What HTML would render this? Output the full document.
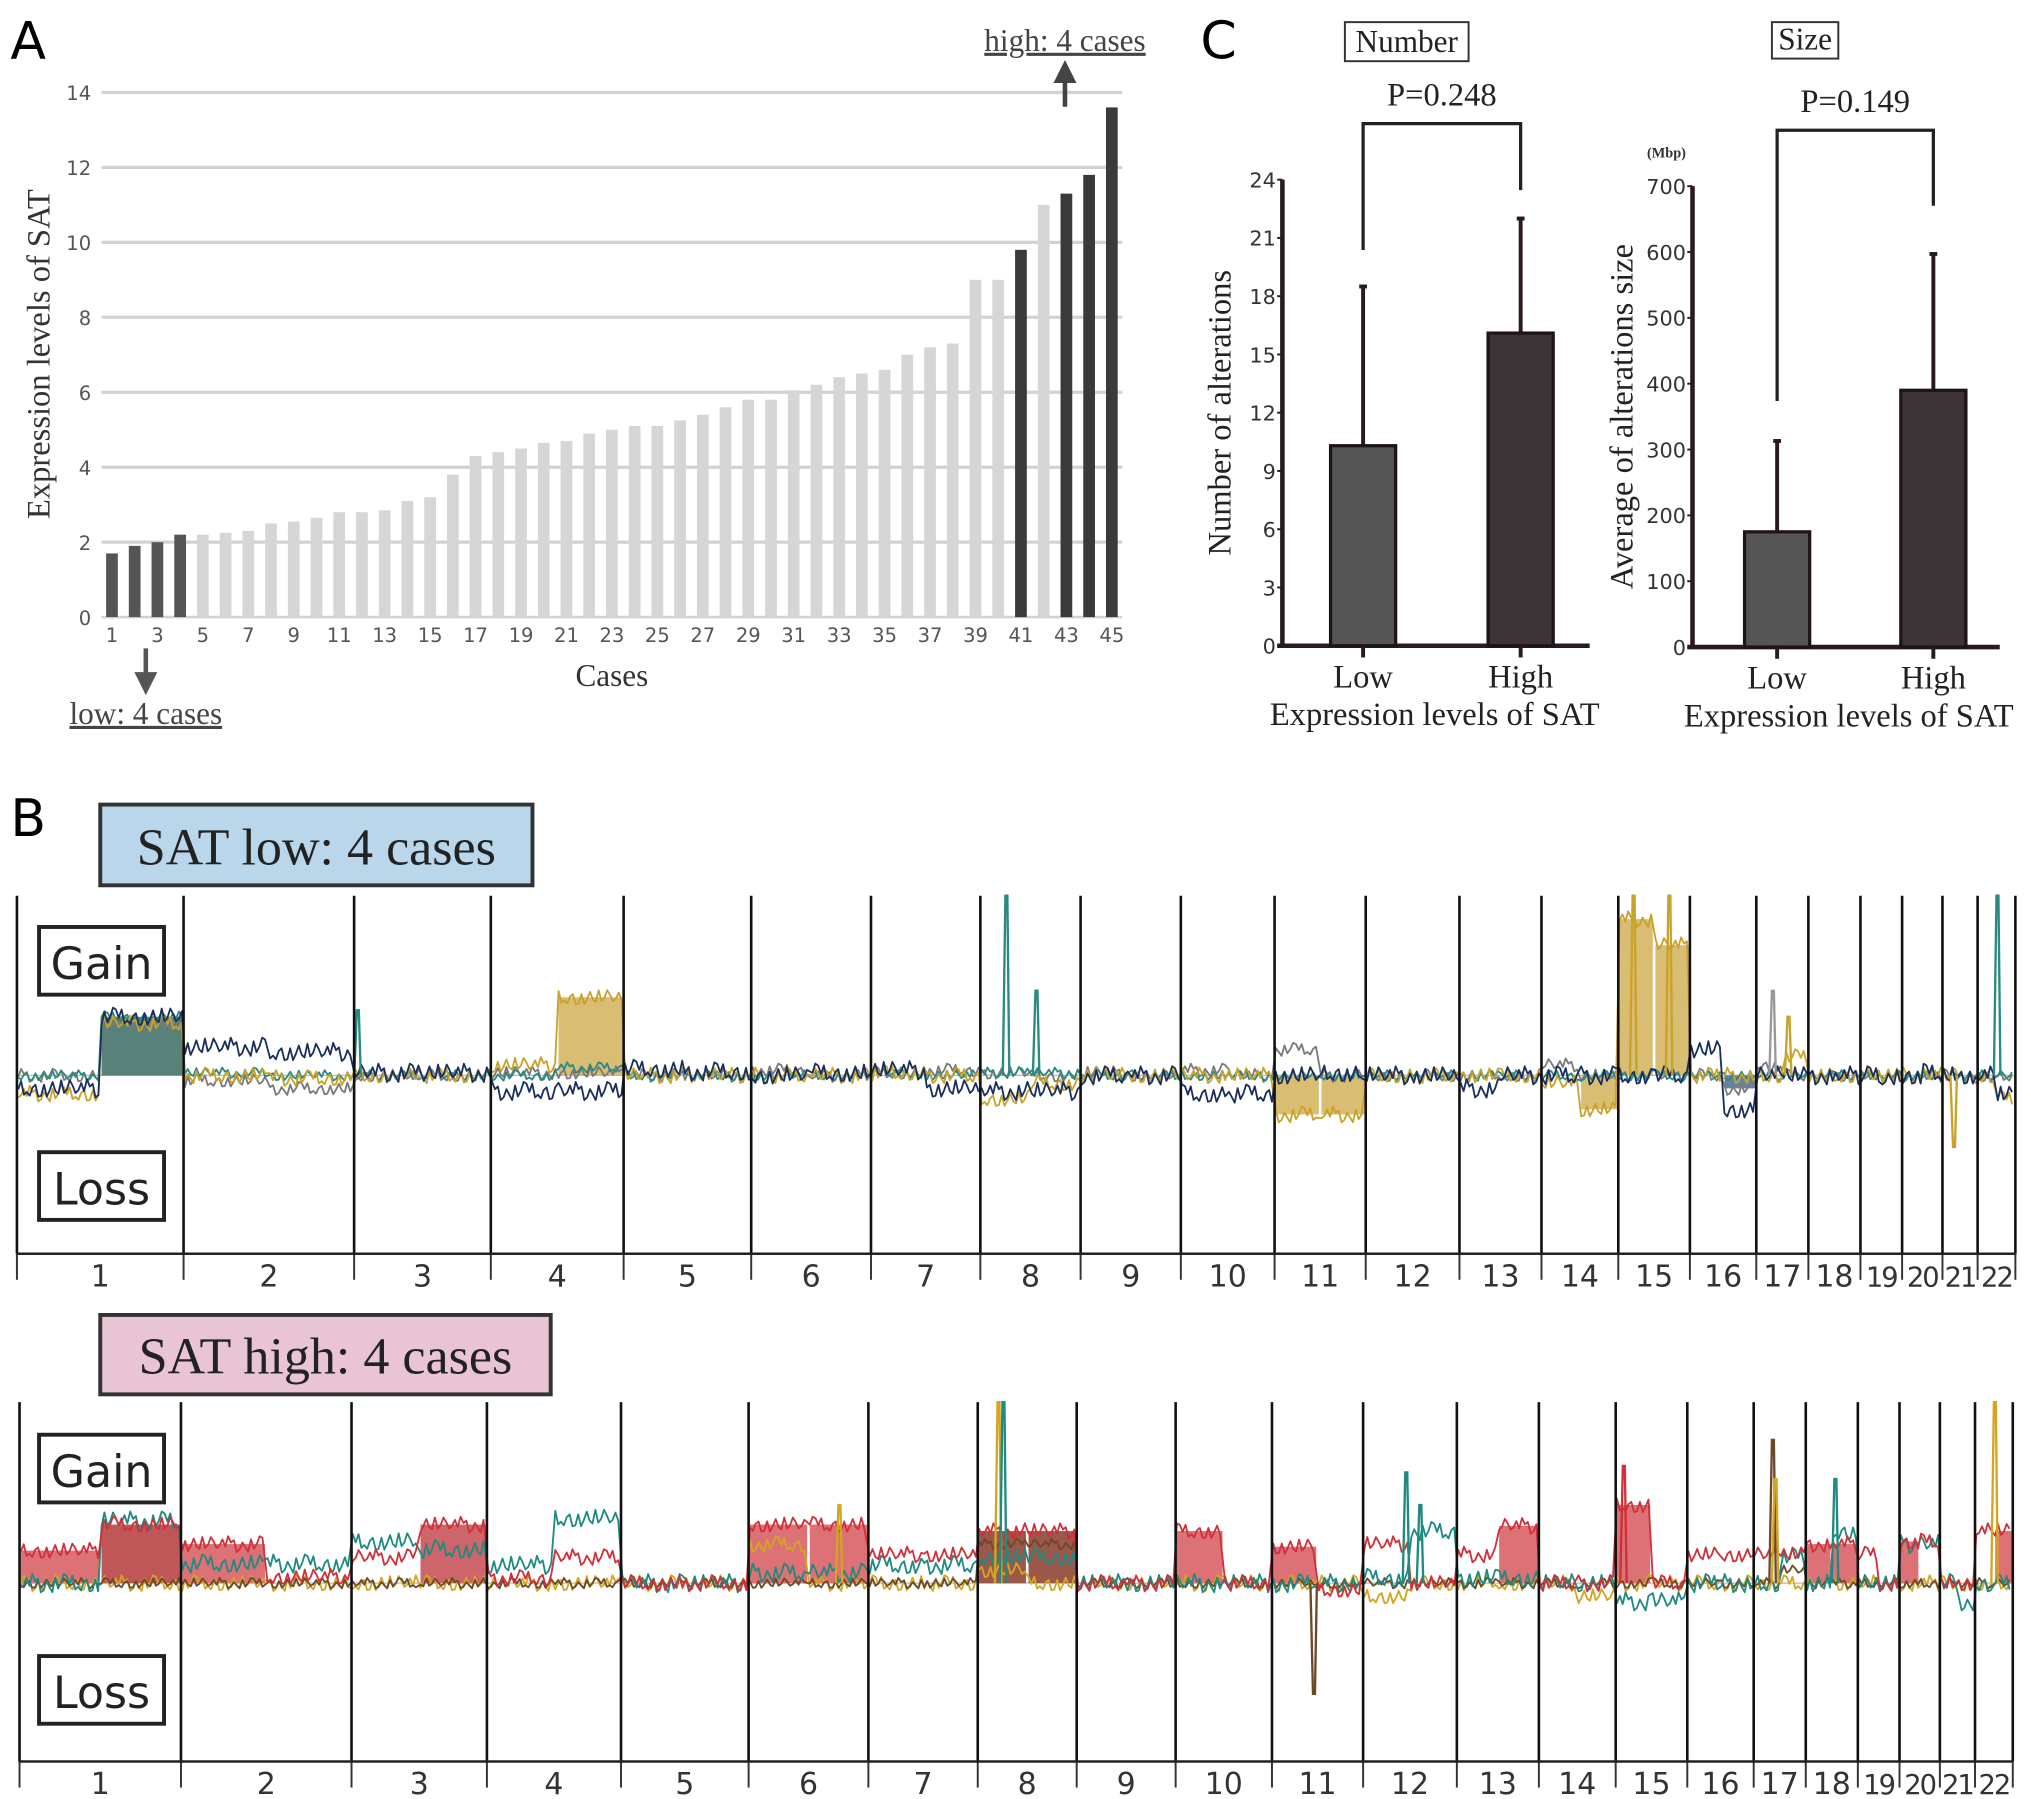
<!DOCTYPE html>
<html><head><meta charset="utf-8"><style>
html,body{margin:0;padding:0;background:#fff;}
svg{display:block;}
.serif{font-family:"Liberation Serif",serif;}
.sans{font-family:"DejaVu Sans","Liberation Sans",sans-serif;}
</style></head><body>
<svg id="fig" width="2031" height="1799" viewBox="0 0 1560 1381.8" xmlns="http://www.w3.org/2000/svg">
<g id="panelA"></g>
<g id="panelC"></g>
<g id="panelB"></g>
</svg>
<script>
// ---- Panel A data ----
const caseValues=[1.7,1.9,2.0,2.2,2.2,2.25,2.3,2.5,2.55,2.65,2.8,2.8,2.85,3.1,3.2,3.8,4.3,4.4,4.5,4.65,4.7,4.9,5.0,5.1,5.1,5.25,5.4,5.6,5.8,5.8,6.05,6.2,6.4,6.5,6.6,7.0,7.2,7.3,9.0,9.0,9.8,11.0,11.3,11.8,13.6];
const darkCases=[1,2,3,4,41,43,44,45];
const yTicksA=[0,2,4,6,8,10,12,14];
// ---- Panel C data ----
const groups=["Low","High"];
const numMeans=[10.3,16.1];
const numErr=[18.5,22.0];
const numTicks=[0,3,6,9,12,15,18,21,24];
const sizeMeans=[175,390];
const sizeErr=[313,597];
const sizeTicks=[0,100,200,300,400,500,600,700];
// ---- Panel B data: per sample, per chromosome [p-arm level, q-arm level] (+ = gain) ----
const chromLabels=["1","2","3","4","5","6","7","8","9","10","11","12","13","14","15","16","17","18","19","20","21","22"];
const lowNavy=[[-10,45],[22,18],[2,2],[-12,-12],[5,3],[0,2],[4,-10],[-12,-12],[0,0],[-14,-14],[0,2],[0,0],[-10,0],[0,0],[0,0],[20,-26],[0,0],[0,0],[0,0],[0,2],[0,0],[0,-15]];
const lowYellow=[[-14,40],[0,-2],[0,0],[8,60],[0,0],[0,0],[2,0],[-18,-6],[0,0],[0,0],[-30,-30],[0,0],[0,0],[-6,-26],[120,100],[0,0],[0,14],[0,0],[0,0],[0,0],[0,0],[0,-18]];
const lowGray=[[0,40],[-4,-10],[0,0],[2,2],[0,0],[4,0],[2,4],[2,0],[2,0],[4,0],[20,0],[0,0],[0,0],[8,0],[0,0],[0,-10],[8,0],[0,0],[0,0],[0,0],[0,0],[0,0]];
const lowTeal=[[0,45],[2,0],[0,0],[0,6],[0,0],[0,0],[2,0],[2,2],[0,0],[0,0],[0,0],[0,0],[0,0],[0,0],[0,0],[0,0],[0,0],[0,0],[0,0],[0,0],[0,0],[0,0]];
const highRed=[[25,45],[30,5],[20,45],[4,20],[0,0],[45,45],[22,22],[40,40],[0,0],[40,0],[28,-5],[30,0],[22,44],[0,0],[60,0],[22,22],[22,22],[30,30],[22,0],[32,32],[0,0],[40,40]];
const highTeal=[[0,48],[15,15],[32,26],[14,50],[0,0],[8,8],[14,14],[20,20],[0,0],[0,0],[0,0],[4,40],[4,4],[0,0],[-14,-14],[0,0],[0,20],[0,40],[0,0],[30,30],[0,-14],[0,0]];
const highYellow=[[0,0],[0,0],[0,0],[0,0],[0,0],[30,0],[0,0],[10,0],[0,0],[0,0],[0,0],[-10,0],[0,0],[0,-10],[0,0],[0,0],[0,0],[0,0],[0,0],[0,0],[0,0],[0,0]];
const highBrown=[[0,0],[0,0],[0,0],[0,0],[0,0],[0,0],[0,0],[30,30],[0,0],[0,0],[0,0],[0,0],[0,0],[0,0],[0,0],[0,0],[0,10],[0,0],[0,0],[0,0],[0,0],[0,0]];
// narrow spikes: [chromIndex, position fraction within chromosome, level]
const lowSpikes=[[7,0.25,138,'#2a8a80'],[7,0.55,65,'#2a8a80'],[16,0.3,65,'#999'],[16,0.6,45,'#c9a22a'],[21,0.5,138,'#2a8a80'],[20,0.3,-55,'#c9a22a'],[2,0.02,50,'#2a8a80'],[14,0.2,140,'#c9a22a'],[14,0.7,140,'#c9a22a']];
const highSpikes=[[7,0.2,140,'#d4a520'],[7,0.25,140,'#1f8a80'],[10,0.45,-85,'#6b4a2a'],[11,0.45,85,'#1f8a80'],[11,0.6,60,'#1f8a80'],[16,0.35,110,'#6b4a2a'],[16,0.4,80,'#d4a520'],[17,0.55,80,'#1f8a80'],[21,0.5,140,'#d4a520'],[14,0.1,90,'#d0303a'],[5,0.75,60,'#d4a520']];
// decorative jitter table
const NOISE=[0.3,-0.8,0.5,1,-0.4,-1,0.7,0.1,-0.6,0.9,-0.2,0.4,-0.9,0.6,0.2,-0.5,0.8,-0.3,0,-0.7,1,-0.1,0.5,-1,0.3,0.7,-0.4,0.2,-0.8,0.6,-0.2,0.9,-0.6,0.1,-0.9,0.4,0.8];

const NS="http://www.w3.org/2000/svg";
function mk(parent,tag,attrs,text){const e=document.createElementNS(NS,tag);for(const k in attrs)e.setAttribute(k,attrs[k]);if(text!==undefined)e.textContent=text;parent.appendChild(e);return e;}

// ===== Panel A =====
(function(){
const g=document.getElementById('panelA');
const y0=474,ppu=(474-71)/14;
const yA=v=>y0-v*ppu;
const xA=i=>86+(i-1)*(854-86)/44;
let t=mk(g,'text',{x:8,y:45,'font-size':40,class:'sans'},'A');

yTicksA.forEach(v=>{
 if(v>0){const l=mk(g,'line',{x1:78,x2:862,y1:yA(v),y2:yA(v),stroke:'#d2d2d2','stroke-width':2.5});
 }
 const tx=mk(g,'text',{x:70,y:yA(v)+6,'font-size':15,'text-anchor':'end',fill:'#555',class:'sans'},String(v));
 
});
const ax=mk(g,'line',{x1:78,x2:862,y1:y0,y2:y0,stroke:'#d2d2d2','stroke-width':2});

caseValues.forEach((v,i)=>{
 const n=i+1;const dark=darkCases.includes(n);
 const r=mk(g,'rect',{x:xA(n)-4.5,y:yA(v),width:9,height:v*ppu,fill:dark?(n<5?'#555':'#3a3a3a'):'#d6d6d6'});
 
 if(n%2===1){const tl=mk(g,'text',{x:xA(n),y:493,'font-size':15,'text-anchor':'middle',fill:'#555',class:'sans'},String(n));
 }
});
t=mk(g,'text',{x:470,y:527,'font-size':24,'text-anchor':'middle',class:'serif',fill:'#333'},'Cases');

t=mk(g,'text',{x:38,y:272,'font-size':25,'text-anchor':'middle',class:'serif',fill:'#333',transform:'rotate(-90 38 272)'},'Expression levels of SAT');

t=mk(g,'text',{x:818,y:39,'font-size':24,'text-anchor':'middle',class:'serif',fill:'#444','text-decoration':'underline'},'high: 4 cases');

t=mk(g,'text',{x:112,y:556,'font-size':24,'text-anchor':'middle',class:'serif',fill:'#444','text-decoration':'underline'},'low: 4 cases');

let a=mk(g,'path',{d:'M818 82 V58 M812 62 L818 50 L824 62 Z',stroke:'#444','stroke-width':3.5,fill:'#444'});

a=mk(g,'path',{d:'M112 498 V522 M106 518 L112 530 L118 518 Z',stroke:'#555','stroke-width':3.5,fill:'#555'});

})();

// ===== Panel C =====
function barPanel(g,name,cfg){
 const {axX,y0,yTop,max,ticks,means,errs,cx,by,bl,br,px,title,tbox,mbp,ytitle,ytx,xtx}=cfg;
 const yS=v=>y0-(v/max)*(y0-yTop);
 const gg=mk(g,'g',{});
 let l=mk(gg,'line',{x1:axX,x2:axX,y1:yTop,y2:y0,stroke:'#2a1a1e','stroke-width':3.5});
 
 l=mk(gg,'line',{x1:axX-4,x2:axX+236,y1:y0,y2:y0,stroke:'#2a1a1e','stroke-width':3.5});
 
 ticks.forEach(v=>{
  const tk=mk(gg,'line',{x1:axX-4,x2:axX,y1:yS(v),y2:yS(v),stroke:'#2a1a1e','stroke-width':1.5});
  
  const tx=mk(gg,'text',{x:axX-5,y:yS(v)+6,'font-size':16,'text-anchor':'end',fill:'#333',class:'sans'},String(v));
  
 });
 means.forEach((m,i)=>{
  const e=mk(gg,'line',{x1:cx[i],x2:cx[i],y1:yS(errs[i]),y2:yS(m),stroke:'#2a1a1e','stroke-width':3});
  
  const ec=mk(gg,'line',{x1:cx[i]-3,x2:cx[i]+3,y1:yS(errs[i]),y2:yS(errs[i]),stroke:'#2a1a1e','stroke-width':3});
  
  const r=mk(gg,'rect',{x:cx[i]-25,y:yS(m),width:50,height:y0-yS(m),fill:i===0?'#555':'#3d3437',stroke:'#1e1416','stroke-width':2.5});
  
  const tk=mk(gg,'line',{x1:cx[i],x2:cx[i],y1:y0,y2:y0+9,stroke:'#2a1a1e','stroke-width':3});
  
  const tl=mk(gg,'text',{x:cx[i],y:y0+32,'font-size':25,'text-anchor':'middle',fill:'#222',class:'serif'},groups[i]);
  
 });
 let t=mk(gg,'text',{x:xtx,y:y0+61,'font-size':25,'text-anchor':'middle',fill:'#222',class:'serif'},'Expression levels of SAT');
 
 t=mk(gg,'text',{x:ytx,y:(yTop+y0)/2,'font-size':25,'text-anchor':'middle',fill:'#222',class:'serif',transform:`rotate(-90 ${ytx} ${(yTop+y0)/2})`},ytitle);
 
 const br_=mk(gg,'path',{d:`M${cx[0]} ${bl} V${by} H${cx[1]} V${br}`,fill:'none',stroke:'#222','stroke-width':2.5});
 
 t=mk(gg,'text',{x:(cx[0]+cx[1])/2,y:by-14,'font-size':25,'text-anchor':'middle',fill:'#222',class:'serif'},px);
 
 const bxr=mk(gg,'rect',{x:tbox[0],y:tbox[1],width:tbox[2],height:tbox[3],fill:'none',stroke:'#333','stroke-width':1.5});
 
 t=mk(gg,'text',{x:tbox[0]+tbox[2]/2,y:tbox[1]+tbox[3]-7,'font-size':24,'text-anchor':'middle',fill:'#222',class:'serif'},title);
 
 if(mbp){t=mk(gg,'text',{x:axX-20,y:yTop-22,'font-size':11,'text-anchor':'middle',fill:'#333',class:'serif','font-weight':'bold'},'(Mbp)');
 }
}
(function(){
const g=document.getElementById('panelC');
let t=mk(g,'text',{x:922,y:45,'font-size':40,class:'sans'},'C');

barPanel(g,'number-chart',{axX:985,y0:496,yTop:138,max:24,ticks:numTicks,means:numMeans,errs:numErr,cx:[1047,1168],by:95,bl:192,br:146,px:'P=0.248',title:'Number',tbox:[1033,17,95,30],mbp:false,ytitle:'Number of alterations',ytx:945,xtx:1102});
barPanel(g,'size-chart',{axX:1300,y0:497,yTop:143,max:700,ticks:sizeTicks,means:sizeMeans,errs:sizeErr,cx:[1365,1485],by:100,bl:308,br:158,px:'P=0.149',title:'Size',tbox:[1361,17,51,28],mbp:true,ytitle:'Average of alterations size',ytx:1254,xtx:1420});
})();

// ===== Panel B =====
function cnvPanel(g,name,cfg){
 const {divs,top,base,axisY,bottom,labelBox,labelText,labelFill,gainY,lossY,series,fills,spikes}=cfg;
 const gg=mk(g,'g',{});
 let r=mk(gg,'rect',{x:labelBox[0],y:labelBox[1],width:labelBox[2],height:labelBox[3],fill:labelFill,stroke:'#333','stroke-width':3});
 
 let t=mk(gg,'text',{x:labelBox[0]+labelBox[2]/2,y:labelBox[1]+labelBox[3]-16,'font-size':40,'text-anchor':'middle',fill:'#222',class:'serif'},labelText);
 
 let bl=mk(gg,'line',{x1:divs[0],x2:divs[divs.length-1],y1:base,y2:base,stroke:'#bbb','stroke-width':1});
 
 fills.forEach(f=>{
  const [ci,arm,sIdx,col]=f;const s=series[sIdx];
  const x0=divs[ci],x1=divs[ci+1],xm=(x0+x1)/2;
  const xa=arm===0?x0:xm,xb=arm===0?xm:x1;
  const lv=s.data[ci][arm];
  const fr=mk(gg,'rect',{x:xa+1,y:Math.min(base,base-lv),width:xb-xa-2,height:Math.abs(lv),fill:col,opacity:0.85});
  
 });
 series.forEach((s,si)=>{
  let pts=[];
  s.data.forEach((pq,ci)=>{
   const x0=divs[ci],x1=divs[ci+1],xm=(x0+x1)/2;
   [[x0,xm,pq[0]],[xm,x1,pq[1]]].forEach(([a,b,lv],k)=>{
    let n=0;
    for(let x=a+1;x<b-1;x+=2.2){pts.push([x,base-lv+NOISE[(n*5+si*11+ci*3+k*7)%NOISE.length]*s.amp]);n++;}
   });
  });
  const p=mk(gg,'polyline',{points:pts.map(q=>q[0].toFixed(1)+','+q[1].toFixed(1)).join(' '),fill:'none',stroke:s.color,'stroke-width':1.4,'stroke-linejoin':'round'});
  
 });
 spikes.forEach(sp=>{
  const [ci,fr,lv,col]=sp;const x=divs[ci]+(divs[ci+1]-divs[ci])*fr;
  const yv=Math.max(top,base-lv);
  const p=mk(gg,'path',{d:`M${x-2} ${base} L${x} ${yv} L${x+1.5} ${yv} L${x+3} ${base}`,fill:'none',stroke:col,'stroke-width':1.8});
  
 });
 divs.forEach((x,i)=>{
  const l=mk(gg,'line',{x1:x,x2:x,y1:top,y2:axisY,stroke:'#111','stroke-width':2});
  
  const tk=mk(gg,'line',{x1:x,x2:x,y1:axisY,y2:bottom,stroke:'#333','stroke-width':1.5});
  
 });
 let ax=mk(gg,'line',{x1:divs[0],x2:divs[divs.length-1],y1:axisY,y2:axisY,stroke:'#222','stroke-width':2});
 
 chromLabels.forEach((c,i)=>{
  const cx=(divs[i]+divs[i+1])/2;
  const tx=mk(gg,'text',{x:cx,y:axisY+25,'font-size':i>=18?21:23,'text-anchor':'middle',fill:'#333',class:'sans','letter-spacing':i>=18?-1.5:0},c);
  
 });
 [[gainY,'Gain'],[lossY,'Loss']].forEach(([y,txt])=>{
  const bb=mk(gg,'rect',{x:30,y:y,width:96,height:52,fill:'#fff',stroke:'#222','stroke-width':3});
  
  const tt=mk(gg,'text',{x:78,y:y+40,'font-size':34,'text-anchor':'middle',fill:'#222',class:'sans'},txt);
  
 });
}
(function(){
const g=document.getElementById('panelB');
let t=mk(g,'text',{x:8,y:642,'font-size':40,class:'sans'},'B');

cnvPanel(g,'sat-low-profile',{divs:[13,141,272,377,479,577,669,753,830,907,979,1049,1121,1184,1243,1298,1349,1389,1429,1461,1492,1519,1548],
 top:688,base:826,axisY:963,bottom:983,labelBox:[77,618,332,62],labelText:'SAT low: 4 cases',labelFill:'#b9d6ea',gainY:712,lossY:885,
 series:[{name:'gray',color:'#7a7a7a',data:lowGray,amp:5},{name:'teal',color:'#2a8a80',data:lowTeal,amp:4},{name:'yellow',color:'#c9a22a',data:lowYellow,amp:6},{name:'navy',color:'#1b2f5e',data:lowNavy,amp:7}],
 fills:[[0,1,3,'#3b6b62'],[3,1,2,'#d1b25a'],[10,0,2,'#d1b25a'],[10,1,2,'#d1b25a'],[13,1,2,'#d1b25a'],[14,0,2,'#d1b25a'],[14,1,2,'#d1b25a'],[15,1,0,'#4c6d92']],
 spikes:lowSpikes});
cnvPanel(g,'sat-high-profile',{divs:[15,139,270,374,477,575,667,751,827,903,977,1047,1119,1182,1241,1296,1347,1387,1427,1459,1490,1517,1546],
 top:1077,base:1216,axisY:1353,bottom:1373,labelBox:[77,1010,346,61],labelText:'SAT high: 4 cases',labelFill:'#e8c4d5',gainY:1102,lossY:1272,
 series:[{name:'yellow',color:'#d4a520',data:highYellow,amp:6},{name:'brown',color:'#6b4a2a',data:highBrown,amp:4},{name:'teal',color:'#1f8a80',data:highTeal,amp:7},{name:'red',color:'#d0303a',data:highRed,amp:6}],
 fills:[[0,0,3,'#d6585e'],[0,1,3,'#b43a3c'],[1,0,3,'#d6585e'],[2,1,3,'#c44a50'],[5,0,3,'#d6585e'],[5,1,3,'#d6585e'],[7,0,3,'#8a3a2a'],[7,1,3,'#8a3a2a'],[9,0,3,'#d6585e'],[10,0,3,'#d6585e'],[12,1,3,'#d6585e'],[14,0,3,'#d6585e'],[17,0,3,'#d6585e'],[17,1,3,'#d6585e'],[19,0,3,'#d6585e'],[21,1,3,'#d6585e']],
 spikes:highSpikes});
})();
</script>
</body></html>
